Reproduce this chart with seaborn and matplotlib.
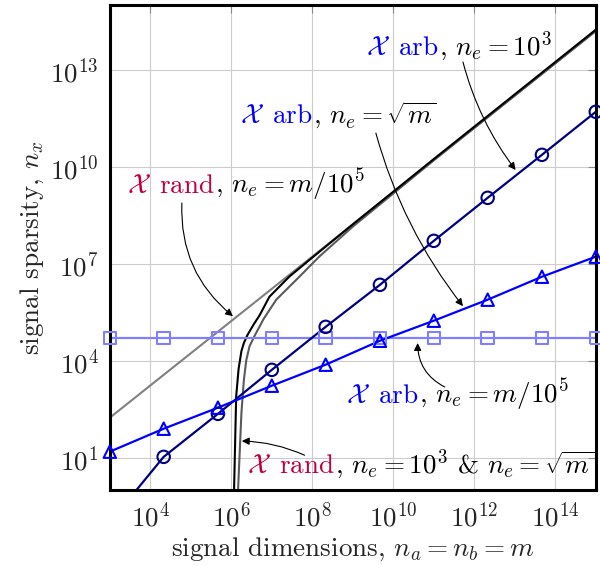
import numpy as np
import pandas as pd
import seaborn as sns
import matplotlib.pyplot as plt

# exponents (log10)
marker_lx = [3.0, 4.33, 5.67, 7.0, 8.33, 9.67, 11.0, 12.33, 13.67, 15.0]
square_ly = [4.71, 4.71, 4.71, 4.71, 4.71, 4.71, 4.71, 4.71, 4.71, 4.71]
circle_ly = [-1.0, 1.03, 2.36, 3.72, 5.05, 6.35, 7.71, 9.04, 10.37, 11.70]
triangle_ly = [1.19, 1.90, 2.55, 3.23, 3.88, 4.62, 5.24, 5.89, 6.60, 7.22]

rand_lin_lx = [3.0, 15.0]
rand_lin_ly = [2.24, 14.20]
rand_k_lx = [6.06, 6.07, 6.12, 6.18, 6.25, 6.31, 6.40, 6.55, 6.70, 6.94, 7.43, 7.93, 9.0, 11.0, 13.0, 15.0]
rand_k_ly = [-0.5, 0.10, 2.89, 3.75, 4.30, 4.55, 4.80, 5.12, 5.41, 5.98, 6.60, 7.12, 8.22, 10.24, 12.24, 14.24]
rand_s_lx = [6.16, 6.17, 6.25, 6.31, 6.37, 6.45, 6.57, 6.80, 7.11, 7.68, 8.17, 9.0, 11.0, 13.0, 15.0]
rand_s_ly = [-0.5, 0.10, 2.39, 3.40, 4.02, 4.45, 4.76, 5.30, 5.89, 6.60, 7.22, 8.15, 10.20, 12.20, 14.20]

x_ticks = [4, 6, 8, 10, 12, 14]
y_ticks = [1, 4, 7, 10, 13]

NAVY = "#000080"
BLUE = "#0000ff"
LIGHT = "#8080ff"
PURPLE = "#bf0040"


def frame(lx, ly):
    return pd.DataFrame({"m": 10.0 ** np.array(lx), "nx": 10.0 ** np.array(ly)})


sns.set_style("white")
plt.rcParams["font.family"] = ["cmr10"]
plt.rcParams["mathtext.fontset"] = "cm"
plt.rcParams["axes.formatter.use_mathtext"] = True
FS = 19.5

fig = plt.figure(figsize=(6.0, 5.66), dpi=100)
ax = fig.add_axes([0.183, 0.134, 0.81, 0.857])
ax.set_xscale("log")
ax.set_yscale("log")
ax.set_xlim(1e3, 1e15)
ax.set_ylim(1e0, 1e15)

sns.lineplot(data=frame(rand_lin_lx, rand_lin_ly), x="m", y="nx", color="#808080", lw=1.5, ax=ax)
sns.lineplot(data=frame(rand_s_lx, rand_s_ly), x="m", y="nx", color="#5a5a5a", lw=1.5, sort=False, ax=ax)
sns.lineplot(data=frame(rand_k_lx, rand_k_ly), x="m", y="nx", color="black", lw=1.5, sort=False, ax=ax)

series = [(square_ly, LIGHT, "s"), (circle_ly, NAVY, "o"), (triangle_ly, BLUE, "^")]
for ly, col, mk in series:
    d = frame(marker_lx, ly)
    sns.lineplot(data=d, x="m", y="nx", color=col, lw=1.6, ax=ax)
    inside = d[(d["nx"] >= 1) & (d["nx"] <= 1e15)]
    sns.scatterplot(data=inside, x="m", y="nx", marker=mk, s=80, facecolor="none",
                    edgecolor=col, linewidth=1.5, clip_on=False, zorder=5, ax=ax)

ax.set_xticks([10.0 ** t for t in x_ticks])
ax.set_xticklabels([f"$10^{{{t}}}$" for t in x_ticks], fontsize=FS)
ax.set_yticks([10.0 ** t for t in y_ticks])
ax.set_yticklabels([f"$10^{{{t}}}$" for t in y_ticks], fontsize=FS)
ax.minorticks_off()
ax.grid(True, color="#cccccc", lw=0.8)
ax.tick_params(direction="in", length=6, color="#888888", top=True, right=True, pad=8)
for s in ax.spines.values():
    s.set_linewidth(2.2)
    s.set_color("black")

ax.set_xlabel("signal dimensions, $n_a = n_b = m$", fontsize=FS, labelpad=3)
ax.set_ylabel("signal sparsity, $n_x$", fontsize=FS, labelpad=3)


def label(lx, ly, colored, col, rest):
    x, y = 10.0 ** lx, 10.0 ** ly
    ax.text(x, y, colored, color=col, ha="right", va="baseline", fontsize=FS)
    ax.text(x, y, rest, color="black", ha="left", va="baseline", fontsize=FS)


label(11.12, 13.45, r"$\mathcal{X}\,$ arb", BLUE, r", $n_e = 10^3$")
label(8.01, 11.35, r"$\mathcal{X}\,$ arb", BLUE, r", $n_e = \sqrt{m}$")
label(5.59, 9.19, r"$\mathcal{X}\,$ rand", PURPLE, r", $n_e = m/10^5$")
label(10.63, 2.69, r"$\mathcal{X}\,$ arb", BLUE, r", $n_e = m/10^5$")
label(8.56, 0.53, r"$\mathcal{X}\,$ rand", PURPLE, r", $n_e = 10^3$ & $n_e = \sqrt{m}$")


def arrow(start, tip, rad):
    ax.annotate("", xy=(10.0 ** tip[0], 10.0 ** tip[1]),
                xytext=(10.0 ** start[0], 10.0 ** start[1]),
                arrowprops=dict(arrowstyle="-|>", color="black", lw=0.8, mutation_scale=11,
                                shrinkA=0, shrinkB=0, connectionstyle=f"arc3,rad={rad}"))


arrow((11.72, 13.24), (13.02, 9.90), 0.1)
arrow((9.57, 11.04), (11.72, 5.69), 0.1)
arrow((4.78, 8.88), (6.04, 5.38), 0.25)
arrow((11.27, 3.19), (10.60, 4.55), -0.3)
arrow((7.81, 1.08), (6.26, 1.52), 0.1)

fig.savefig("out.png", dpi=100)
